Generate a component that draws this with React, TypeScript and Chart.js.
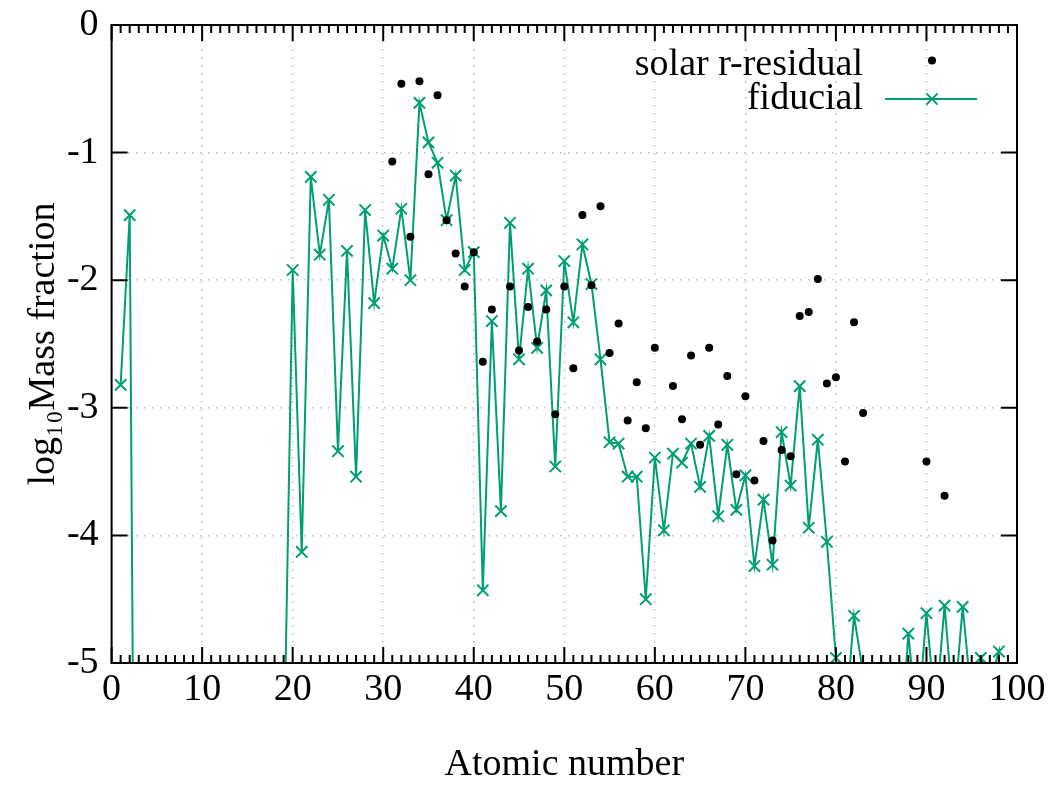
import React, { useEffect, useRef } from "react";
import { Chart, registerables } from "chart.js";

Chart.register(...registerables);

// x-axis / y-axis tick settings
const xTickValues = [0, 10, 20, 30, 40, 50, 60, 70, 80, 90, 100];
const yTickValues = [0, -1, -2, -3, -4, -5];

// solar r-residual (atomic number, log10 mass fraction)
const solarZ = [
  31, 32, 33, 34, 35, 36, 37, 38, 39, 40, 41, 42, 44, 45, 46, 47, 48, 49, 50,
  51, 52, 53, 54, 55, 56, 57, 58, 59, 60, 62, 63, 64, 65, 66, 67, 68, 69, 70,
  71, 72, 73, 74, 75, 76, 77, 78, 79, 80, 81, 82, 83, 90, 92,
];
const solarValues = [
  -1.07, -0.46, -1.66, -0.44, -1.17, -0.55, -1.53, -1.79, -2.05, -1.78, -2.64,
  -2.23, -2.05, -2.55, -2.21, -2.48, -2.23, -3.05, -2.05, -2.69, -1.49, -2.04,
  -1.42, -2.57, -2.34, -3.10, -2.80, -3.16, -2.53, -2.83, -3.09, -2.59, -3.29,
  -2.53, -3.13, -2.75, -3.52, -2.91, -3.57, -3.26, -4.04, -3.33, -3.38, -2.28,
  -2.25, -1.99, -2.81, -2.76, -3.42, -2.33, -3.04, -3.42, -3.69,
];

// fiducial: atomic numbers 1..99 and values
const fiducialZ = [
  1, 2, 3, 4, 5, 6, 7, 8, 9, 10, 11, 12, 13, 14, 15, 16, 17, 18, 19, 20, 21,
  22, 23, 24, 25, 26, 27, 28, 29, 30, 31, 32, 33, 34, 35, 36, 37, 38, 39, 40,
  41, 42, 43, 44, 45, 46, 47, 48, 49, 50, 51, 52, 53, 54, 55, 56, 57, 58, 59,
  60, 61, 62, 63, 64, 65, 66, 67, 68, 69, 70, 71, 72, 73, 74, 75, 76, 77, 78,
  79, 80, 81, 82, 83, 84, 85, 86, 87, 88, 89, 90, 91, 92, 93, 94, 95, 96, 97,
  98, 99,
];
const fiducialValues = [
  -2.82, -1.49, -12, -12, -12, -12, -12, -12, -12, -12, -12, -12, -12, -12,
  -12, -12, -12, -12, -5.9, -1.92, -4.13, -1.19, -1.8, -1.37, -3.34, -1.77,
  -3.54, -1.45, -2.18, -1.65, -1.91, -1.44, -2.0, -0.61, -0.92, -1.08, -1.53,
  -1.18, -1.92, -1.78, -4.43, -2.32, -3.81, -1.55, -2.62, -1.91, -2.53, -2.08,
  -3.46, -1.85, -2.33, -1.72, -2.03, -2.62, -3.27, -3.28, -3.54, -3.54, -4.5,
  -3.39, -3.96, -3.36, -3.43, -3.28, -3.62, -3.22, -3.85, -3.29, -3.8, -3.53,
  -4.24, -3.72, -4.23, -3.19, -3.61, -2.83, -3.94, -3.25, -4.05, -4.96, -5.47,
  -4.63, -5.08, -7, -7, -7, -5.8, -4.77, -5.5, -4.61, -5.4, -4.55, -5.4,
  -4.56, -5.3, -4.96, -5.15, -4.91, -20,
];

const legendLabels = ["solar r-residual", "fiducial"];
const GREEN = "#009e73";
const FONT = '"Liberation Serif", "Times New Roman", serif';
const FONT_SIZE = 38;

const framePlugin = {
  id: "gnuFrame",
  afterDatasetsDraw(chart: any) {
    const { ctx, chartArea } = chart;
    const { left, right, top, bottom } = chartArea;
    const xs = chart.scales.x;
    const ys = chart.scales.y;
    ctx.save();
    ctx.strokeStyle = "#000";
    ctx.lineWidth = 2;
    ctx.beginPath();
    for (let v = 0; v <= 100; v++) {
      const px = xs.getPixelForValue(v);
      const len = v % 10 === 0 ? 16 : 8;
      ctx.moveTo(px, bottom);
      ctx.lineTo(px, bottom - len);
      ctx.moveTo(px, top);
      ctx.lineTo(px, top + len);
    }
    for (const t of yTickValues) {
      const py = ys.getPixelForValue(t);
      ctx.moveTo(left, py);
      ctx.lineTo(left + 16, py);
      ctx.moveTo(right, py);
      ctx.lineTo(right - 16, py);
    }
    ctx.stroke();
    ctx.strokeRect(left, top, right - left, bottom - top);

    // legend (gnuplot style, top right)
    ctx.fillStyle = "#000";
    ctx.font = `${FONT_SIZE}px ${FONT}`;
    ctx.textAlign = "right";
    ctx.textBaseline = "alphabetic";
    ctx.fillText(legendLabels[0], 863, 75);
    ctx.fillText(legendLabels[1], 863, 109);
    ctx.beginPath();
    ctx.arc(932, 60.5, 4, 0, Math.PI * 2);
    ctx.fill();
    ctx.strokeStyle = GREEN;
    ctx.lineWidth = 2;
    ctx.beginPath();
    ctx.moveTo(885, 99);
    ctx.lineTo(977, 99);
    const r = 8 * Math.SQRT1_2;
    ctx.moveTo(932 - r, 99 - r);
    ctx.lineTo(932 + r, 99 + r);
    ctx.moveTo(932 - r, 99 + r);
    ctx.lineTo(932 + r, 99 - r);
    ctx.stroke();
    ctx.restore();
  },
};

export default function App() {
  const ref = useRef<HTMLCanvasElement | null>(null);
  useEffect(() => {
    if (!ref.current) return;
    Chart.defaults.font.family = FONT;
    const chart = new Chart(ref.current, {
      type: "scatter",
      data: {
        datasets: [
          {
            label: legendLabels[0],
            data: solarZ.map((z, i) => ({ x: z, y: solarValues[i] })),
            showLine: false,
            pointStyle: "circle",
            pointRadius: 4,
            pointBackgroundColor: "#000",
            pointBorderColor: "#000",
            pointBorderWidth: 0,
          },
          {
            label: legendLabels[1],
            data: fiducialZ.map((z, i) => ({ x: z, y: fiducialValues[i] })),
            showLine: true,
            borderColor: GREEN,
            borderWidth: 2,
            pointStyle: "crossRot",
            pointRadius: 8,
            pointBorderColor: GREEN,
            pointBorderWidth: 2,
            pointBackgroundColor: GREEN,
          },
        ],
      },
      options: {
        animation: false,
        responsive: false,
        events: [],
        layout: { padding: { left: 0, top: 25, right: 41, bottom: 0 } },
        plugins: {
          legend: { display: false },
          tooltip: { enabled: false },
        },
        scales: {
          x: {
            type: "linear",
            min: 0,
            max: 100,
            afterBuildTicks: (s: any) => {
              s.ticks = xTickValues.map((v) => ({ value: v }));
            },
            afterFit: (s: any) => {
              s.height = 122;
              s.paddingLeft = 0;
              s.paddingRight = 0;
            },
            ticks: {
              color: "#000",
              font: { size: FONT_SIZE },
              padding: 4,
              maxRotation: 0,
              autoSkip: false,
            },
            grid: {
              color: "#bdbdbd",
              lineWidth: 1.5,
              drawTicks: false,
            },
            border: { display: false, dash: [1.5, 6.5] },
            title: {
              display: true,
              text: "Atomic number",
              color: "#000",
              font: { size: FONT_SIZE },
              padding: { top: 0, bottom: -3 },
            },
          },
          y: {
            type: "linear",
            min: -5,
            max: 0,
            afterBuildTicks: (s: any) => {
              s.ticks = yTickValues.map((v) => ({ value: v }));
            },
            afterFit: (s: any) => {
              s.width = 111.6;
              s.paddingTop = 0;
              s.paddingBottom = 0;
            },
            ticks: {
              color: "#000",
              font: { size: FONT_SIZE },
              padding: 13,
              autoSkip: false,
            },
            grid: {
              color: "#bdbdbd",
              lineWidth: 1.5,
              drawTicks: false,
            },
            border: { display: false, dash: [1.5, 6.5] },
            title: {
              display: true,
              text: "log₁₀Mass fraction",
              color: "#000",
              font: { size: FONT_SIZE },
              padding: { top: 21, bottom: 0 },
            },
          },
        },
      },
      plugins: [framePlugin],
    });
    return () => chart.destroy();
  }, []);
  return (
    <div style={{ position: "absolute", left: 0, top: 0, width: 1058, height: 785, background: "#fff" }}>
      <canvas ref={ref} width={1058} height={785} style={{ display: "block" }} />
    </div>
  );
}
